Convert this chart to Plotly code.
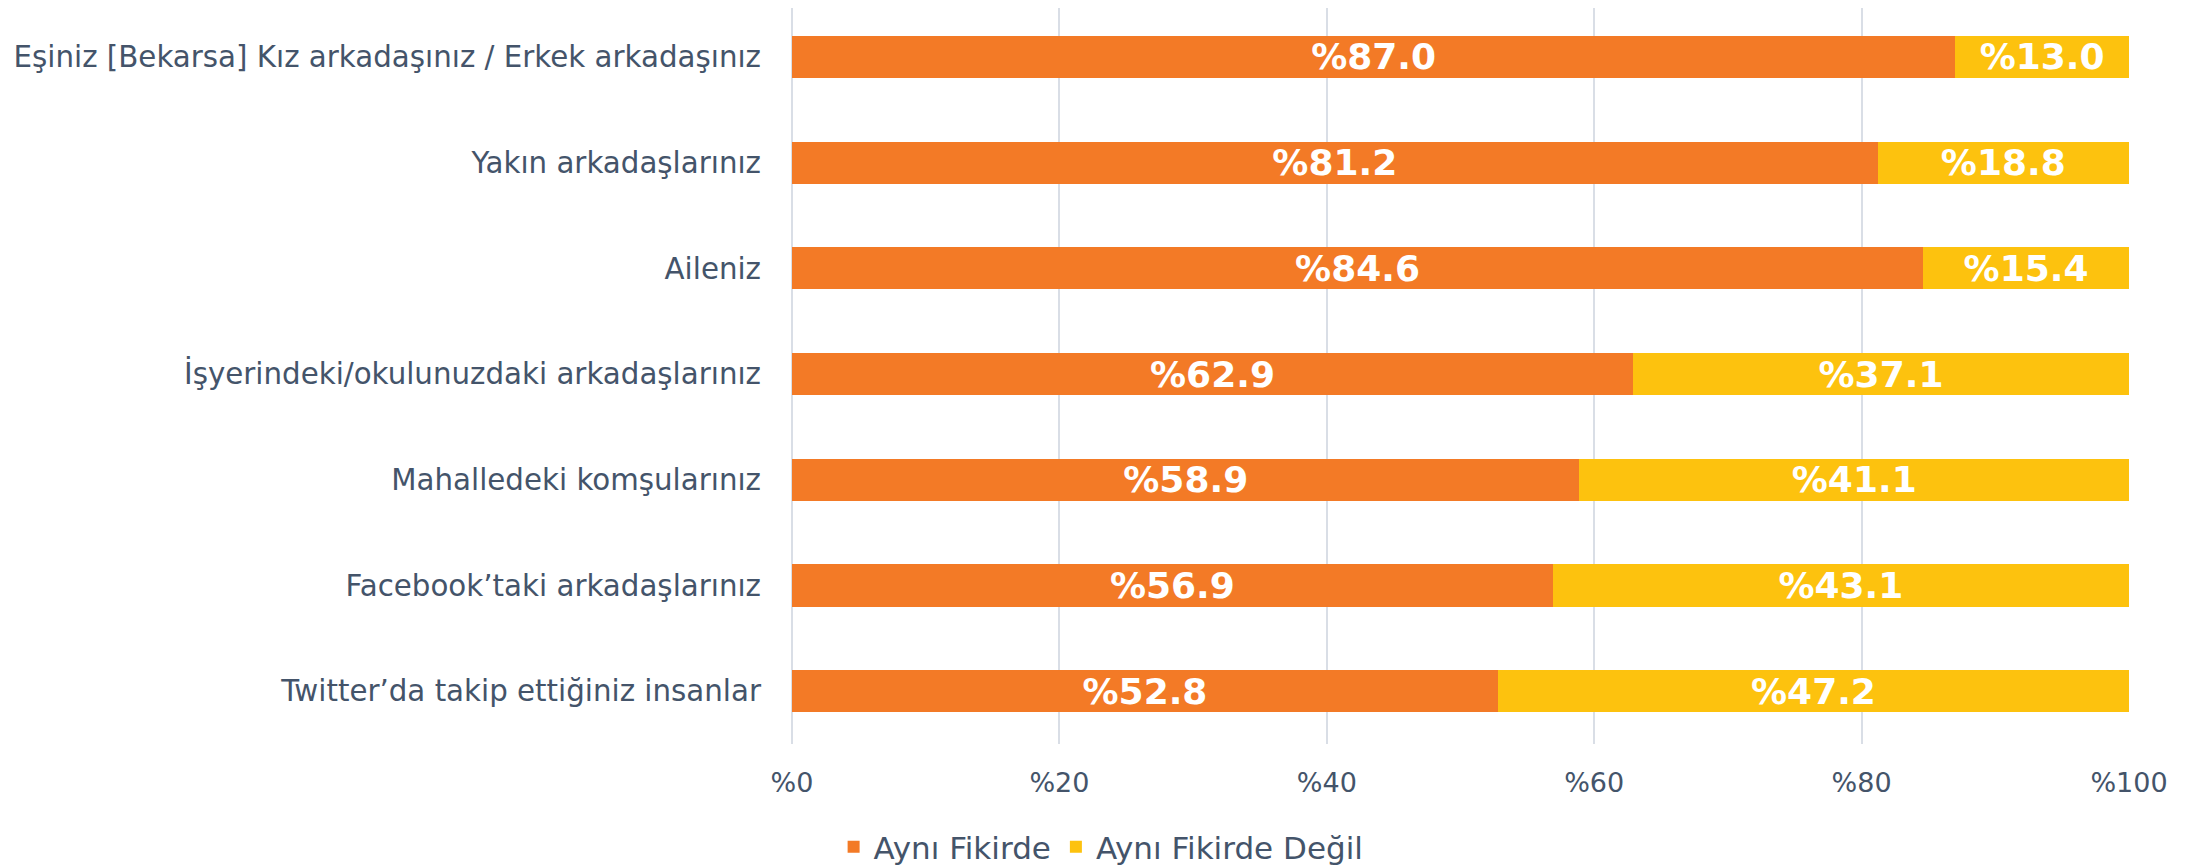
import plotly.graph_objects as go

# kategoriler (yukarıdan aşağıya)
categories = [
    "Eşiniz [Bekarsa] Kız arkadaşınız / Erkek arkadaşınız",
    "Yakın arkadaşlarınız",
    "Aileniz",
    "İşyerindeki/okulunuzdaki arkadaşlarınız",
    "Mahalledeki komşularınız",
    "Facebook’taki arkadaşlarınız",
    "Twitter’da takip ettiğiniz insanlar",
]
ayni_fikirde = [87.0, 81.2, 84.6, 62.9, 58.9, 56.9, 52.8]
ayni_fikirde_degil = [13.0, 18.8, 15.4, 37.1, 41.1, 43.1, 47.2]
tick_vals = [0, 20, 40, 60, 80, 100]
tick_text = ["%0", "%20", "%40", "%60", "%80", "%100"]

FONT = "DejaVu Sans"
TXT = "#44546A"
LABEL_FONT = dict(family=FONT, size=36, color="white", weight="bold")

fig = go.Figure()

fig.add_trace(go.Bar(
    y=categories, x=ayni_fikirde, orientation="h",
    name="Aynı Fikirde",
    marker=dict(color="#F37A26", line=dict(width=0)),
    text=[f"%{v:.1f}" for v in ayni_fikirde],
    textposition="inside", insidetextanchor="middle",
    textfont=LABEL_FONT,
    constraintext="none",
))
fig.add_trace(go.Bar(
    y=categories, x=ayni_fikirde_degil, orientation="h",
    name="Aynı Fikirde Değil",
    marker=dict(color="#FDC20E", line=dict(width=0)),
    text=[f"%{v:.1f}" for v in ayni_fikirde_degil],
    textposition="inside", insidetextanchor="middle",
    textfont=LABEL_FONT,
    constraintext="none",
))

fig.update_layout(
    barmode="stack",
    bargap=0.6,
    width=2195, height=865,
    paper_bgcolor="white",
    plot_bgcolor="white",
    margin=dict(l=784, r=74, t=0, b=129),
    font=dict(family=FONT, size=27, color=TXT),
    showlegend=True,
    legend=dict(
        orientation="h",
        traceorder="normal",
        xref="container", yref="container",
        x=0.498, y=0.03, xanchor="center", yanchor="middle",
        font=dict(size=31, color=TXT),
    ),
    xaxis=dict(
        range=[0, 100],
        tickvals=tick_vals,
        ticktext=tick_text,
        showgrid=True, gridcolor="#D9DEE6", gridwidth=2,
        zeroline=True, zerolinecolor="#D9DEE6", zerolinewidth=2,
        tickfont=dict(size=27, color=TXT),
        ticklabelstandoff=20,
        fixedrange=True,
    ),
    yaxis=dict(
        range=[6.5, -0.463],
        showgrid=False,
        tickfont=dict(size=29.3, color=TXT),
        ticklabelstandoff=30,
    ),
)

fig.write_html("out.html")
